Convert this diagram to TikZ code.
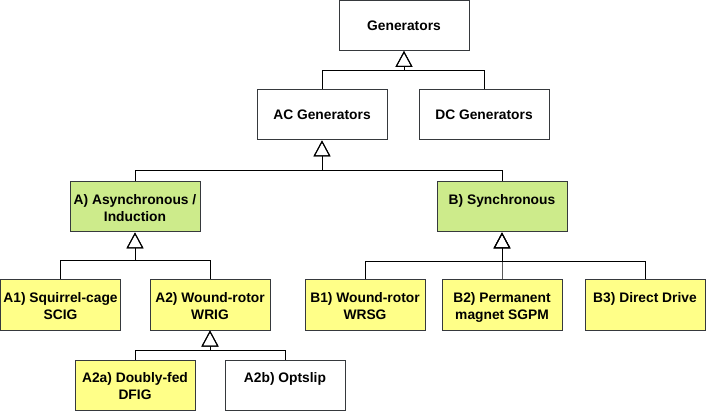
\documentclass[tikz,border=0pt]{standalone}
\usepackage{fontspec}
\setmainfont{Liberation Sans}
\usetikzlibrary{arrows.meta,calc}
\definecolor{greenfill}{HTML}{CDEB8B}
\definecolor{yellowfill}{HTML}{FFFF88}
\definecolor{boxline}{HTML}{36393D}
\tikzstyle{box}=[draw=boxline, line width=1pt, minimum width=120pt, minimum height=50pt, inner sep=0pt, font=\bfseries\fontsize{13.8}{17}\selectfont]
\tikzstyle{wide}=[minimum width=130pt]
\tikzstyle{toptxt}=[anchor=north, inner sep=0pt, yshift=-12.5pt, align=center, font=\bfseries\fontsize{13.8}{17}\selectfont]
\tikzstyle{inh}=[line width=1pt, -{Triangle[open, width=17pt, length=16pt]}]

\begin{document}
\begin{tikzpicture}[x=1pt, y=-1pt]
\useasboundingbox (0,0) rectangle (706,411);
% top levels
\node[box, wide] at (404,25.5) (Gen) {Generators};
\node[box, wide] at (322,115) (AC) {AC Generators};
\node[box, wide] at (484,115) (DC) {DC Generators};
% asynchronous / synchronous
\node[box, wide, fill=greenfill, label={[toptxt]north:A) Asynchronous /\\Induction}] at (135,207) (Asyn) {};
\node[box, wide, fill=greenfill, label={[toptxt]north:B) Synchronous}] at (502,207) (Syn) {};
% induction machines
\node[box, fill=yellowfill, label={[toptxt]north:A1) Squirrel-cage\\SCIG}] at (60.5,305) (SCIG) {};
\node[box, fill=yellowfill, label={[toptxt]north:A2) Wound-rotor\\WRIG}] at (210,305) (WRIG) {};
\node[box, fill=yellowfill, label={[toptxt]north:A2a) Doubly-fed\\DFIG}] at (135,385) (DFIG) {};
\node[box, label={[toptxt]north:A2b) Optslip}] at (285,385) (Opt) {};
% synchronous machines
\node[box, fill=yellowfill, label={[toptxt]north:B1) Wound-rotor\\WRSG}] at (365,305) (WRSG) {};
\node[box, fill=yellowfill, label={[toptxt]north:B2) Permanent\\magnet SGPM}] at (502,305) (SGPM) {};
\node[box, fill=yellowfill, label={[toptxt]north:B3) Direct Drive}] at (645,305) (DD) {};
% inheritance lines
\draw[inh] (AC.north) |- ($(Gen.south)+(0,20)$) -- (Gen.south);
\draw[inh] (DC.north) |- ($(Gen.south)+(0,20)$) -- (Gen.south);
\draw[inh] (Asyn.north) |- ($(AC.south)+(0,30)$) -- (AC.south);
\draw[inh] (Syn.north) |- ($(AC.south)+(0,30)$) -- (AC.south);
\draw[inh] (SCIG.north) |- ($(Asyn.south)+(0,28)$) -- (Asyn.south);
\draw[inh] (WRIG.north) |- ($(Asyn.south)+(0,28)$) -- (Asyn.south);
\draw[inh] (DFIG.north) |- ($(WRIG.south)+(0,20)$) -- (WRIG.south);
\draw[inh] (Opt.north) |- ($(WRIG.south)+(0,20)$) -- (WRIG.south);
\draw[inh] (WRSG.north) |- ($(Syn.south)+(0,29)$) -- (Syn.south);
\draw[inh] (SGPM.north) |- ($(Syn.south)+(0,29)$) -- (Syn.south);
\draw[inh] (DD.north) |- ($(Syn.south)+(0,29)$) -- (Syn.south);
\end{tikzpicture}
\end{document}
